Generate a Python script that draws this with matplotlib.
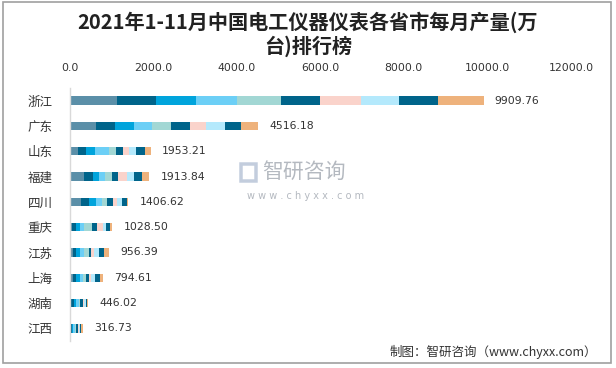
import matplotlib
matplotlib.use("Agg")
import matplotlib.pyplot as plt
import matplotlib.patches as mpatches
import numpy as np

plt.rcParams['font.family'] = ['DejaVu Sans', 'Noto Sans CJK SC']

provinces = ['浙江', '广东', '山东', '福建', '四川', '重庆', '江苏', '上海', '湖南', '江西']
totals = [9909.76, 4516.18, 1953.21, 1913.84, 1406.62, 1028.50, 956.39, 794.61, 446.02, 316.73]
months = ['1-2月', '3月', '4月', '5月', '6月', '7月', '8月', '9月', '10月', '11月']

zhejiang = [1148, 910, 966, 974, 1069, 926, 989, 910, 926, 1092]
guangdong = [643, 457, 434, 442, 442, 465, 372, 465, 372, 424]
shandong = [213, 181, 221, 331, 158, 173, 142, 173, 205, 156]
fujian = [335, 223, 136, 167, 159, 152, 207, 175, 175, 185]
sichuan = [265, 193, 169, 145, 121, 137, 113, 105, 121, 38]
chongqing = [58, 91, 99, 99, 189, 123, 140, 66, 107, 56]
jiangsu = [80, 64, 96, 96, 128, 56, 64, 112, 120, 140]
shanghai = [82, 82, 82, 82, 66, 82, 41, 98, 123, 57]
hunan = [41, 57, 65, 57, 41, 65, 30, 40, 25, 25]
jiangxi = [25, 30, 40, 35, 30, 35, 25, 35, 30, 32]

tick_values = [0, 2000, 4000, 6000, 8000, 10000, 12000]

colors = ['#5B8FA8', '#00648A', '#00A4DC', '#6CCFF6', '#A2D7D4',
          '#00648A', '#FAD3CB', '#B4E9FC', '#00648A', '#EEB27C']

data = np.array([zhejiang, guangdong, shandong, fujian, sichuan,
                 chongqing, jiangsu, shanghai, hunan, jiangxi], dtype=float)

W, H = 616, 368
fig = plt.figure(figsize=(W / 100, H / 100), dpi=100)
fig.patch.set_facecolor('white')

# frame
fig.add_artist(mpatches.Rectangle((3 / W, 5 / H), 608 / W, 361 / H,
                                  transform=fig.transFigure, fill=False,
                                  edgecolor='#A0A0A0', linewidth=1.2))

left, right, top, bottom = 69.5, 571, 88, 341
ax = fig.add_axes([left / W, 1 - bottom / H, (right - left) / W, (bottom - top) / H])

y = np.arange(len(provinces))
lefts = np.zeros(len(provinces))
for j in range(data.shape[1]):
    ax.barh(y, data[:, j], left=lefts, height=0.33, color=colors[j],
            label=months[j], linewidth=0)
    lefts += data[:, j]

for yi, tot, end in zip(y, totals, lefts):
    ax.annotate(f'{tot:.2f}', xy=(end, yi), xytext=(8, 0), textcoords='offset points',
                va='center', ha='left', fontsize=7.8, color='#333333')

ax.set_xlim(0, 12000)
ax.set_ylim(len(provinces) - 0.5, -0.5)
ax.set_yticks(y)
ax.set_yticklabels(provinces, fontsize=9, color='#333333', family=['Noto Sans CJK SC'])
ax.tick_params(axis='y', length=0, pad=12)
ax.xaxis.tick_top()
ax.set_xticks(tick_values)
ax.set_xticklabels([f'{v:.1f}' for v in tick_values], fontsize=7.8, color='#333333')
ax.tick_params(axis='x', length=0, pad=11)
for s in ['top', 'right', 'bottom']:
    ax.spines[s].set_visible(False)
ax.spines['left'].set_color('#D9D9D9')
ax.spines['left'].set_linewidth(1)

# title
fig.text(308 / W, 1 - 34.5 / H, '2021年1-11月中国电工仪器仪表各省市每月产量(万\n台)排行榜',
         ha='center', va='center', fontsize=14.5, fontweight='semibold', color='#222222',
         family=['Noto Sans CJK SC'], linespacing=1.15)

# watermark
fig.add_artist(mpatches.FancyBboxPatch((241 / W, 1 - 181 / H), 15 / W, 17 / H,
                                       boxstyle='round,pad=0', transform=fig.transFigure,
                                       facecolor='none', edgecolor='#C3CDDD', linewidth=2.5))
fig.text(262 / W, 1 - 172 / H, '智研咨询', ha='left', va='center', fontsize=15,
         color='#B4B9C0', family=['Noto Sans CJK SC'])
fig.text(306 / W, 1 - 196 / H, 'w w w . c h y x x . c o m', ha='center', va='center',
         fontsize=7, color='#B4B9C0')

# footer
fig.text(597 / W, 1 - 352 / H, '制图：智研咨询（www.chyxx.com）', ha='right', va='center',
         fontsize=9, color='#333333', family=['Noto Sans CJK SC', 'DejaVu Sans'])

fig.savefig('out.png', dpi=100, facecolor='white')
